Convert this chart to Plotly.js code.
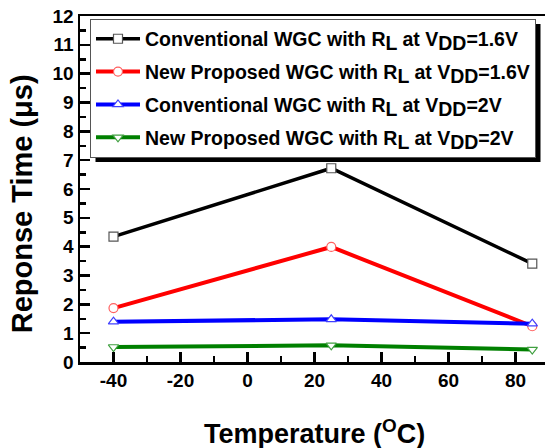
<!DOCTYPE html>
<html><head><meta charset="utf-8">
<script src="https://cdn.plot.ly/plotly-3.0.1.min.js"></script>
<style>html,body{margin:0;padding:0;overflow:hidden;background:#fff}</style>
</head><body>
<div id="chart" style="width:545px;height:448px"></div>
<script>
const temperature = [-40, 25, 85];
const convVdd16 = [4.35, 6.72, 3.41];
const newVdd16 = [1.87, 3.99, 1.24];
const convVdd2 = [1.40, 1.48, 1.33];
const newVdd2 = [0.52, 0.58, 0.43];
const xTickVals = [-40, -20, 0, 20, 40, 60, 80];
const xTickLabels = ['-40', '-20', '0', '20', '40', '60', '80'];
const SUB = t => '<sub><span style="font-size:19.5px">' + t + '</span></sub>';
const seriesNames = [
  'Conventional WGC with R' + SUB('L') + ' at V' + SUB('DD') + '=1.6V',
  'New Proposed WGC with R' + SUB('L') + ' at V' + SUB('DD') + '=1.6V',
  'Conventional WGC with R' + SUB('L') + ' at V' + SUB('DD') + '=2V',
  'New Proposed WGC with R' + SUB('L') + ' at V' + SUB('DD') + '=2V'
];
const seriesValues = [convVdd16, newVdd16, convVdd2, newVdd2];
const lineColors = ['#000000', '#ff0000', '#0000ff', '#008000'];
const markerColors = ['#555555', '#ff6060', '#4040ff', '#40a040'];
const symbols = ['square', 'circle', 'triangle-up', 'triangle-down'];
const lineWidths = [3.5, 4, 4, 4];

const FONT = 'Arial, "Liberation Sans", sans-serif';
const traces = seriesValues.map((v, i) => ({
  x: temperature, y: v, type: 'scatter', mode: 'lines+markers',
  name: seriesNames[i], legendgroup: 'g' + i,
  line: {color: lineColors[i], width: lineWidths[i]},
  marker: {symbol: symbols[i], size: 9, color: '#ffffff', line: {color: markerColors[i], width: 1.2}},
  cliponaxis: false
}));

const layout = {
  width: 545, height: 448,
  margin: {l: 80, r: 0, t: 16, b: 86},
  paper_bgcolor: '#ffffff', plot_bgcolor: '#ffffff',
  font: {family: FONT, color: '#000', size: 19},
  showlegend: true,
  legend: {
    x: 0.0215, y: 0.9925, xanchor: 'left', yanchor: 'top',
    bgcolor: '#ffffff', bordercolor: '#555', borderwidth: 1,
    font: {family: FONT, size: 19.5, weight: 'bold', color: '#000'},
    itemwidth: 44, tracegroupgap: 4.5
  },
  xaxis: {
    range: [-50, 88.8], tickmode: 'array', tickvals: xTickVals, ticktext: xTickLabels,
    ticks: 'inside', ticklen: 10, tickwidth: 2.5, tickcolor: '#000',
    minor: {dtick: 10, ticks: 'inside', ticklen: 6, tickwidth: 2.5, tickcolor: '#000'},
    showline: true, linewidth: 2.5, linecolor: '#000', mirror: true,
    showgrid: false, zeroline: false,
    tickfont: {family: FONT, size: 19, weight: 'bold'}
  },
  yaxis: {
    range: [0, 12], dtick: 1,
    ticks: 'inside', ticklen: 10, tickwidth: 2.5, tickcolor: '#000',
    minor: {dtick: 0.5, ticks: 'inside', ticklen: 6, tickwidth: 2.5, tickcolor: '#000'},
    showline: true, linewidth: 2.5, linecolor: '#000',
    showgrid: false, zeroline: false,
    tickfont: {family: FONT, size: 19, weight: 'bold'}
  },
  annotations: [
    {text: 'Temperature (<sup>O</sup>C)', xref: 'paper', yref: 'paper', x: 0.505, y: -0.203,
     xanchor: 'center', yanchor: 'middle', showarrow: false,
     font: {family: FONT, size: 27, weight: 'bold', color: '#000'}},
    {text: 'Reponse Time (μs)', xref: 'paper', yref: 'paper', x: -0.126, y: 0.457,
     xanchor: 'center', yanchor: 'middle', showarrow: false, textangle: -90,
     font: {family: FONT, size: 29, weight: 'bold', color: '#000'}}
  ]
};
Plotly.newPlot('chart', traces, layout, {displayModeBar: false, staticPlot: true}).then(gd => {
  const bg = gd.querySelector('.legend .bg');
  if (!bg) return;
  const r = bg.getBoundingClientRect();
  const c = gd.getBoundingClientRect();
  const fs = gd._fullLayout._size;
  const off = 5;
  const px = v => (v - c.left - fs.l) / fs.w;
  const py = v => 1 - (v - c.top - fs.t) / fs.h;
  Plotly.relayout(gd, {shapes: [{
    type: 'rect', xref: 'paper', yref: 'paper', layer: 'above',
    x0: px(r.left + off), x1: px(r.right + off), y0: py(r.bottom + off), y1: py(r.top + off),
    fillcolor: '#000', line: {width: 0}
  }]});
});
</script>
</body></html>
